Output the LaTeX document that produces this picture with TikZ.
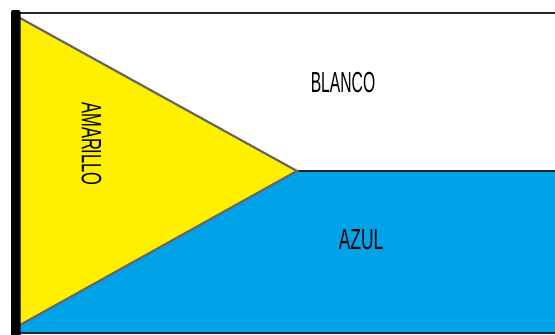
\documentclass[tikz,border=0pt]{standalone}
\usepackage{fontspec}
\setmainfont{Liberation Sans}
\definecolor{flagyellow}{HTML}{FFF000}
\definecolor{flagblue}{HTML}{00A2E8}
\tikzset{
  flaglabel/.style={inner sep=0pt,font=\fontsize{29}{29}\selectfont,text=black,xscale=.54},
  seam/.style={draw=black!60,line width=2.2pt},
  edge/.style={draw=black!85,line width=1.8pt}
}
\begin{document}
\begin{tikzpicture}[x=1pt,y=-1pt]
\useasboundingbox (0,0) rectangle (555,335);
\fill[white] (0,0) rectangle (555,335);
\fill[flagblue] (20,171) rectangle (555,333);
\fill[flagblue] (20,325) -- (297,171) -- (20,171) -- cycle;
\fill[flagyellow] (20,18) -- (297,171) -- (20,325) -- cycle;
\draw[edge] (15,13) -- (555,13);
\draw[edge] (297,171) -- (555,171);
\draw[edge] (15,333) -- (555,333);
\draw[seam] (20,18) -- (297,171) -- (20,325);
\fill[black,rounded corners=2pt] (11,10) rectangle (20.5,340);
\node[flaglabel] (blanco) at (343,82.5) {BLANCO};
\node[flaglabel,xscale=1.11] (azul) at (361,240) {AZUL};
\node[inner sep=0pt,font=\fontsize{28}{28}\selectfont,text=black,rotate=-90,xscale=.59] (amarillo) at (91.5,144) {AMARILLO};
\end{tikzpicture}
\end{document}
